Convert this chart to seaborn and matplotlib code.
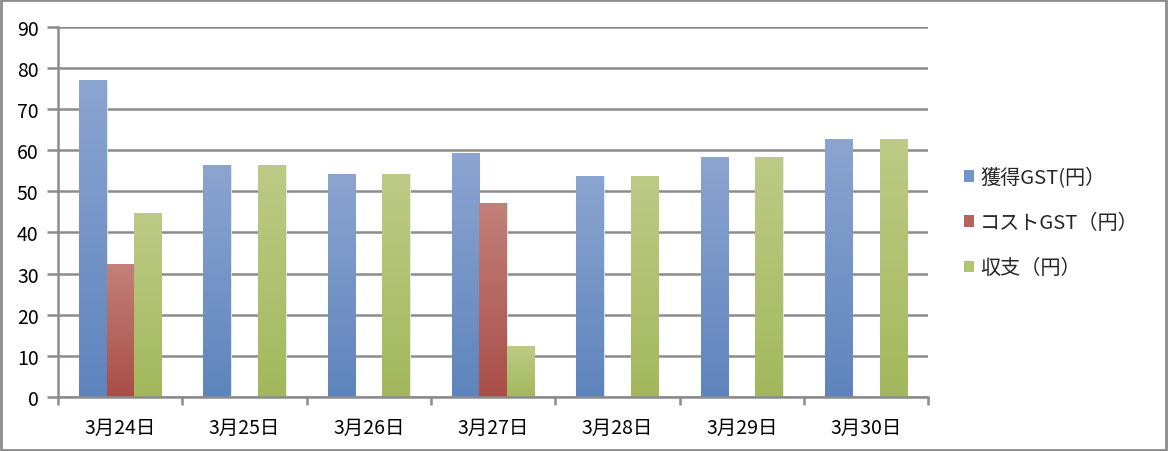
import numpy as np
import pandas as pd
import matplotlib
matplotlib.use("Agg")
import matplotlib.pyplot as plt
import seaborn as sns
from matplotlib.colors import LinearSegmentedColormap
from matplotlib.patches import Rectangle

# data
dates = ["3月24日", "3月25日", "3月26日", "3月27日", "3月28日", "3月29日", "3月30日"]
series = ["獲得GST(円）", "コストGST（円）", "収支（円）"]
earned = [77.0, 56.3, 54.3, 59.4, 53.8, 58.4, 62.6]
cost = [32.3, 0, 0, 47.1, 0, 0, 0]
balance = [44.7, 56.3, 54.3, 12.3, 53.8, 58.4, 62.6]

# colours: top (light) / bottom (dark) of each bar gradient
mid_colors = ["#7394C8", "#B8625B", "#B1C56F"]
top_colors = ["#8CA5D0", "#C2817A", "#BDCB86"]
bot_colors = ["#5E84BD", "#A94D47", "#A3B85C"]

sns.set_theme(style="white")
plt.rcParams['font.family'] = ['Noto Sans CJK JP', 'DejaVu Sans']

df = pd.DataFrame({
    "date": dates * 3,
    "value": earned + cost + balance,
    "series": [series[0]] * 7 + [series[1]] * 7 + [series[2]] * 7,
})

fig = plt.figure(figsize=(11.68, 4.52), dpi=100)
ax = fig.add_axes([0.0497, 0.1195, 0.745, 0.819])

sns.barplot(data=df, x="date", y="value", hue="series", palette=mid_colors,
            width=0.66, ax=ax, legend=False, saturation=1, errorbar=None,
            edgecolor="#e8ecf2", linewidth=0.6, zorder=3)

# vertical gradient on each bar
for i, container in enumerate(ax.containers):
    cmap = LinearSegmentedColormap.from_list(f"g{i}", [bot_colors[i], top_colors[i]])
    for patch in container.patches:
        h = patch.get_height()
        if h <= 0:
            continue
        x0 = patch.get_x()
        w = patch.get_width()
        grad = np.linspace(0, 1, 256).reshape(-1, 1)
        im = ax.imshow(grad, cmap=cmap, origin="lower", aspect="auto",
                       extent=(x0, x0 + w, 0, h), zorder=3.5)
        im.set_clip_path(patch)

ax.set_xlim(-0.5, len(dates) - 0.5)
ax.set_ylim(0, 90)
ax.set_yticks(range(0, 91, 10))
ax.set_xlabel("")
ax.set_ylabel("")

ax.grid(axis="y", color="#8c8c8c", linewidth=1.8, zorder=0)
ax.set_axisbelow(True)
for side in ["top", "right"]:
    ax.spines[side].set_visible(False)
for side in ["left", "bottom"]:
    ax.spines[side].set_color("#8c8c8c")
    ax.spines[side].set_linewidth(1.8)
    ax.spines[side].set_zorder(5)

ax.tick_params(axis="y", which="major", left=True, length=8, width=1.8,
               color="#8c8c8c", labelsize=14, labelcolor="#000000", pad=6)
ax.tick_params(axis="x", which="major", bottom=False, labelsize=14,
               labelcolor="#000000", pad=8)
ax.set_xticks(np.arange(-0.5, len(dates), 1.0), minor=True)
ax.tick_params(axis="x", which="minor", bottom=True, length=6, width=1.8,
               color="#8c8c8c")

handles = [Rectangle((0, 0), 1, 1, facecolor=c, edgecolor="none") for c in mid_colors]
fig.legend(handles, series, loc="center left", bbox_to_anchor=(0.81, 0.505),
           frameon=False, fontsize=14.5, handlelength=0.5, handleheight=0.5,
           handletextpad=0.3, labelspacing=1.2)

# outer chart border
fig.patches.append(Rectangle((0.001, 0.002), 0.997, 0.995, transform=fig.transFigure,
                             fill=False, edgecolor="#8c8c8c", linewidth=2))

fig.savefig("out.png", dpi=100)
